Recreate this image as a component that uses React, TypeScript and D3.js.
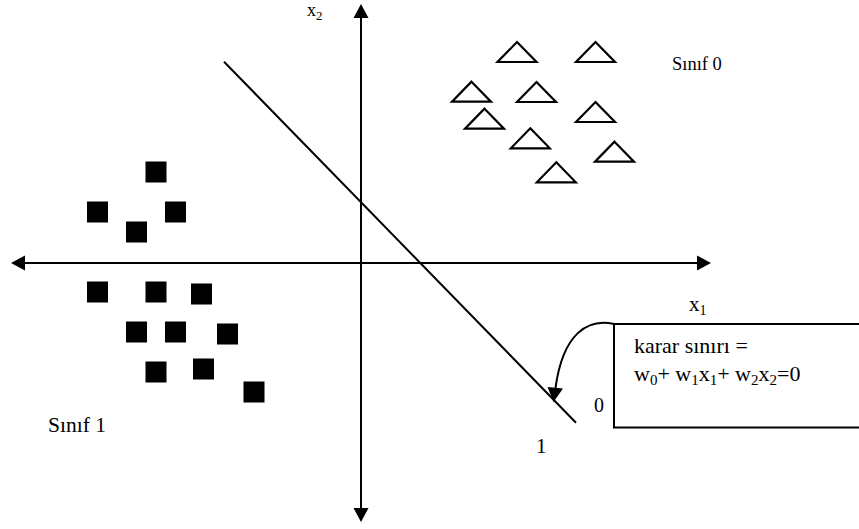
import React from "react";
import * as d3 from "d3";

const W = 859;
const H = 529;

// class 1 (filled squares), coordinates relative to axis origin
const class1X = [-205, -263.5, -185.5, -224.5, -263.5, -205, -159.5, -224.5, -185.5, -133.5, -205, -157.5, -107];
const class1Y = [91, 51, 51, 31, -29, -29, -31, -69, -69, -71, -109, -106, -129];

// class 0 (open triangles), base-centre positions
const class0X = [156, 234.5, 110.5, 175.5, 123.5, 234.5, 169.3, 253.5, 195.3];
const class0Y = [201, 201, 161.3, 161, 134.3, 141, 114.7, 101.3, 80.7];

// decision boundary endpoints
const lineX = [-137, 215];
const lineY = [201.3, -159.7];

// axis extents
const axisXExtent = [-350, 350];
const axisYExtent = [-259, 259];

const FONT = "'Liberation Serif', 'Times New Roman', serif";

export default function App() {
  const x = d3.scaleLinear().domain([-350, 350]).range([11, 711]);
  const y = d3.scaleLinear().domain([-260, 260]).range([523, 3]);

  const ox = x(0);
  const oy = y(0);
  const head = 14;
  const hw = 7.5;

  const x0 = x(axisXExtent[0]);
  const x1 = x(axisXExtent[1]);
  const y0 = y(axisYExtent[0]);
  const y1 = y(axisYExtent[1]);

  const sq = 21;
  const tw = 39;
  const th = 20;

  const line = d3.line<[number, number]>()
    .x((d) => x(d[0]))
    .y((d) => y(d[1]));

  const boundary: [number, number][] = lineX.map((v, i) => [v, lineY[i]]);

  const boxX = 614;
  const boxY = 324;
  const boxH = 103.5;

  const curve = d3.path();
  curve.moveTo(boxX, boxY);
  curve.bezierCurveTo(588, 318, 563, 333, 555.5, 388);

  return (
    <svg
      width={W}
      height={H}
      viewBox={`0 0 ${W} ${H}`}
      style={{ position: "absolute", left: 0, top: 0, background: "#fff" }}
    >
      <rect x={0} y={0} width={W} height={H} fill="#fff" />
      {/* horizontal axis */}
      <line x1={x0 + head} y1={oy} x2={x1 - head} y2={oy} stroke="#000" strokeWidth={2} />
      <path d={`M${x0},${oy} L${x0 + head},${oy - hw} L${x0 + head},${oy + hw} Z`} fill="#000" />
      <path d={`M${x1},${oy} L${x1 - head},${oy - hw} L${x1 - head},${oy + hw} Z`} fill="#000" />
      {/* vertical axis */}
      <line x1={ox} y1={y1 + head} x2={ox} y2={y0 - head} stroke="#000" strokeWidth={2} />
      <path d={`M${ox},${y1} L${ox - hw},${y1 + head} L${ox + hw},${y1 + head} Z`} fill="#000" />
      <path d={`M${ox},${y0} L${ox - hw},${y0 - head} L${ox + hw},${y0 - head} Z`} fill="#000" />

      {/* decision boundary */}
      <path d={line(boundary) || ""} stroke="#000" strokeWidth={2} fill="none" />

      {/* squares */}
      {class1X.map((v, i) => (
        <rect
          key={"s" + i}
          x={x(v) - sq / 2}
          y={y(class1Y[i]) - sq / 2}
          width={sq}
          height={sq}
          fill="#000"
        />
      ))}

      {/* triangles */}
      {class0X.map((v, i) => {
        const cx = x(v);
        const by = y(class0Y[i]);
        return (
          <path
            key={"t" + i}
            d={`M${cx},${by - th} L${cx + tw / 2},${by} L${cx - tw / 2},${by} Z`}
            fill="#fff"
            stroke="#000"
            strokeWidth={2.2}
            strokeLinejoin="miter"
          />
        );
      })}

      {/* box */}
      <rect x={boxX} y={boxY} width={300} height={boxH} fill="none" stroke="#000" strokeWidth={2} />
      <path d={curve.toString()} fill="none" stroke="#000" strokeWidth={2} />
      <path d={`M547.5,387 L563,388.5 L553.5,402 Z`} fill="#000" />

      {/* texts */}
      <g fontFamily={FONT} fill="#000">
        <text x={307} y={16} fontSize={18}>
          x<tspan fontSize={13} dy={4}>2</tspan>
        </text>
        <text x={689} y={311} fontSize={21}>
          x<tspan fontSize={14} dy={4}>1</tspan>
        </text>
        <text x={672} y={70} fontSize={18.5}>Sınıf 0</text>
        <text x={48} y={432} fontSize={21.5}>Sınıf 1</text>
        <text x={594} y={412} fontSize={20}>0</text>
        <text x={536} y={453} fontSize={21}>1</text>
        <text x={634} y={353} fontSize={22}>karar sınırı =</text>
        <text x={634} y={381} fontSize={22}>
          w<tspan fontSize={15} dy={4}>0</tspan>
          <tspan dy={-4}>+ w</tspan>
          <tspan fontSize={15} dy={4}>1</tspan>
          <tspan dy={-4}>x</tspan>
          <tspan fontSize={15} dy={4}>1</tspan>
          <tspan dy={-4}>+ w</tspan>
          <tspan fontSize={15} dy={4}>2</tspan>
          <tspan dy={-4}>x</tspan>
          <tspan fontSize={15} dy={4}>2</tspan>
          <tspan dy={-4}>=0</tspan>
        </text>
      </g>
    </svg>
  );
}
